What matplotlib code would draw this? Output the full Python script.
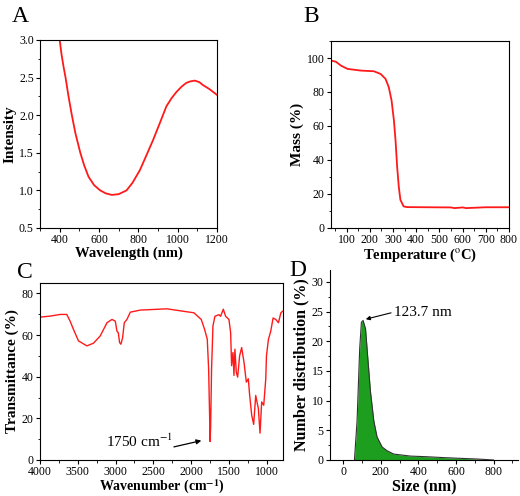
import matplotlib
matplotlib.use("Agg")
import matplotlib.pyplot as plt
from matplotlib.ticker import MultipleLocator

plt.rcParams["font.family"] = ["Liberation Serif", "DejaVu Serif"]
plt.rcParams["mathtext.fontset"] = "stix"
plt.rcParams["font.size"] = 9

# A: absorbance spectrum
wl = [400, 410, 420, 430, 445, 462, 480, 505, 525, 547, 575, 606, 635, 665, 700, 740, 770,
      808, 840, 875, 910, 943, 970, 994, 1020, 1044, 1065, 1087, 1110, 1129, 1160, 1200]
intensity = [3.0, 2.8, 2.64, 2.5, 2.25, 2.0, 1.76, 1.5, 1.33, 1.18, 1.07, 1.0, 0.96, 0.94,
             0.95, 1.0, 1.1, 1.27, 1.46, 1.67, 1.9, 2.12, 2.23, 2.31, 2.38, 2.43, 2.45, 2.46,
             2.44, 2.40, 2.35, 2.27]

# B: TGA
temp = [36, 54, 76, 104, 161, 218, 247, 268, 282, 294, 304, 311, 318, 325, 332, 346, 360,
        450, 550, 565, 600, 615, 700, 800]
mass = [98.4, 97.8, 95.5, 93.6, 92.6, 92.2, 90.6, 87.7, 82.8, 75.0, 63.4, 51.7, 36.0, 24.4,
        16.6, 12.7, 12.3, 12.2, 12.1, 11.7, 12.1, 11.7, 12.2, 12.2]

# C: FTIR
wavenumber = [4000, 3867, 3734, 3646, 3602, 3557, 3491, 3380, 3292, 3203, 3114, 3048, 3004,
              2982, 2964, 2947, 2929, 2907, 2885, 2850, 2805, 2672, 2318, 2119, 1964, 1867,
              1822, 1787, 1769, 1756, 1750, 1743, 1730, 1712, 1686, 1633, 1611, 1575, 1544,
              1500, 1478, 1465, 1447, 1434, 1421, 1403, 1385, 1359, 1332, 1301, 1270, 1244,
              1226, 1199, 1173, 1146, 1129, 1111, 1089, 1067, 1040, 1013, 1004, 978, 947,
              916, 881, 845, 814, 792]
transmittance = [68.6, 69.1, 69.9, 69.9, 66.7, 62.7, 57.2, 54.8, 56.1, 59.6, 65.9, 67.5, 66.7,
                 61.9, 61.1, 56.4, 55.6, 58.8, 65.9, 67.5, 71.0, 72.0, 72.6, 71.5, 70.7, 67.5,
                 62.7, 58.0, 43.7, 21.5, 8.9, 15.2, 43.7, 64.3, 69.0, 69.8, 69.0, 72.4, 69.0,
                 67.5, 61.2, 45.3, 51.6, 40.6, 53.2, 42.1, 39.8, 50.0, 54.0, 46.9, 37.4, 39.0,
                 31.0, 21.5, 17.1, 31.0, 27.9, 24.7, 12.9, 27.9, 26.3, 39.0, 50.0, 57.9, 61.9,
                 68.2, 67.5, 65.9, 70.6, 71.4]

# D: DLS size distribution
size = [60, 74, 88, 97, 106, 119, 131, 145, 163, 180, 207, 234, 269, 358, 446, 535, 623, 712, 800]
number = [0, 6.6, 18.8, 23.2, 23.5, 22.1, 17.2, 11.6, 6.6, 3.9, 2.2, 1.55, 1.0, 0.66, 0.55,
          0.4, 0.28, 0.17, 0]

W, H = 520, 496
fig = plt.figure(figsize=(W / 100, H / 100), dpi=100)


def add_ax(left, right, top, bottom):
    return fig.add_axes([left / W, 1 - bottom / H, (right - left) / W, (bottom - top) / H])


def style(ax):
    ax.tick_params(which="both", direction="out", top=False, right=False, labelsize=8.5, pad=1.5)
    ax.tick_params(which="major", length=3)
    ax.tick_params(which="minor", length=1.8)


red = "#ff1a1a"
xlab = dict(fontsize=10.5, fontweight="bold")
ylab = dict(fontsize=11, fontweight="bold")

ax = add_ax(40, 217, 40, 228)
ax.plot(wl, intensity, color=red, lw=1.3)
ax.set_xlim(300, 1200)
ax.set_ylim(0.5, 3.0)
ax.xaxis.set_major_locator(MultipleLocator(200))
ax.xaxis.set_minor_locator(MultipleLocator(100))
ax.yaxis.set_major_locator(MultipleLocator(0.5))
ax.yaxis.set_minor_locator(MultipleLocator(0.25))
ax.yaxis.set_major_formatter(lambda v, p: f"{v:.1f}")
ax.set_xlabel("Wavelength (nm)", labelpad=0, **xlab)
ax.set_ylabel("Intensity", labelpad=2, **ylab)
style(ax)

ax = add_ax(331, 509, 41, 228)
ax.plot(temp, mass, color=red, lw=1.3)
ax.set_xlim(33, 800)
ax.set_ylim(0, 110)
ax.xaxis.set_major_locator(MultipleLocator(100))
ax.xaxis.set_minor_locator(MultipleLocator(50))
ax.yaxis.set_major_locator(MultipleLocator(20))
ax.yaxis.set_minor_locator(MultipleLocator(10))
ax.set_xlabel("Temperature ($^{\\mathrm{o}}$C)", labelpad=0, **xlab)
ax.set_ylabel("Mass (%)", labelpad=2, **ylab)
style(ax)

ax = add_ax(40, 283, 283, 460)
ax.plot(wavenumber, transmittance, color=red, lw=1.0)
ax.set_xlim(4000, 785)
ax.set_ylim(0, 85)
ax.xaxis.set_major_locator(MultipleLocator(500))
ax.xaxis.set_minor_locator(MultipleLocator(250))
ax.yaxis.set_major_locator(MultipleLocator(20))
ax.yaxis.set_minor_locator(MultipleLocator(10))
ax.set_xlabel("Wavenumber (cm$^{\\mathbf{-1}}$)", labelpad=0, fontsize=10, fontweight="bold")
ax.set_ylabel("Transmittance (%)", labelpad=2, **ylab)
ax.annotate("", xy=(1830, 9.6), xytext=(2264, 6.0),
            arrowprops=dict(arrowstyle="-|>", color="black", lw=0.9, mutation_scale=7))
ax.text(3124, 8.9, "1750 cm$^{-1}$", fontsize=11, va="center", ha="left")
style(ax)

ax = add_ax(330, 518, 270, 460)
ax.fill_between(size, number, color="#1e9e1e", lw=0)
ax.plot(size, number, color="#333333", lw=0.8)
ax.set_xlim(-70, 930)
ax.set_ylim(0, 32)
ax.spines["top"].set_visible(False)
ax.spines["right"].set_visible(False)
ax.xaxis.set_major_locator(MultipleLocator(200))
ax.xaxis.set_minor_locator(MultipleLocator(100))
ax.yaxis.set_major_locator(MultipleLocator(5))
ax.yaxis.set_minor_locator(MultipleLocator(2.5))
ax.set_xlabel("Size (nm)", labelpad=0, fontsize=11.5, fontweight="bold")
ax.set_ylabel("Number distribution (%)", labelpad=2, fontsize=11.5, fontweight="bold")
ax.annotate("", xy=(106, 23.6), xytext=(269, 24.9),
            arrowprops=dict(arrowstyle="-|>", color="black", lw=0.8, mutation_scale=6))
ax.text(269, 24.9, "123.7 nm", fontsize=11, va="center", ha="left")
style(ax)

for letter, x, y in [("A", 20, 17), ("B", 311, 17), ("C", 25, 272), ("D", 298, 270)]:
    fig.text(x / W, 1 - y / H, letter, fontsize=17, ha="center", va="center")

fig.savefig("out.png", dpi=100)
